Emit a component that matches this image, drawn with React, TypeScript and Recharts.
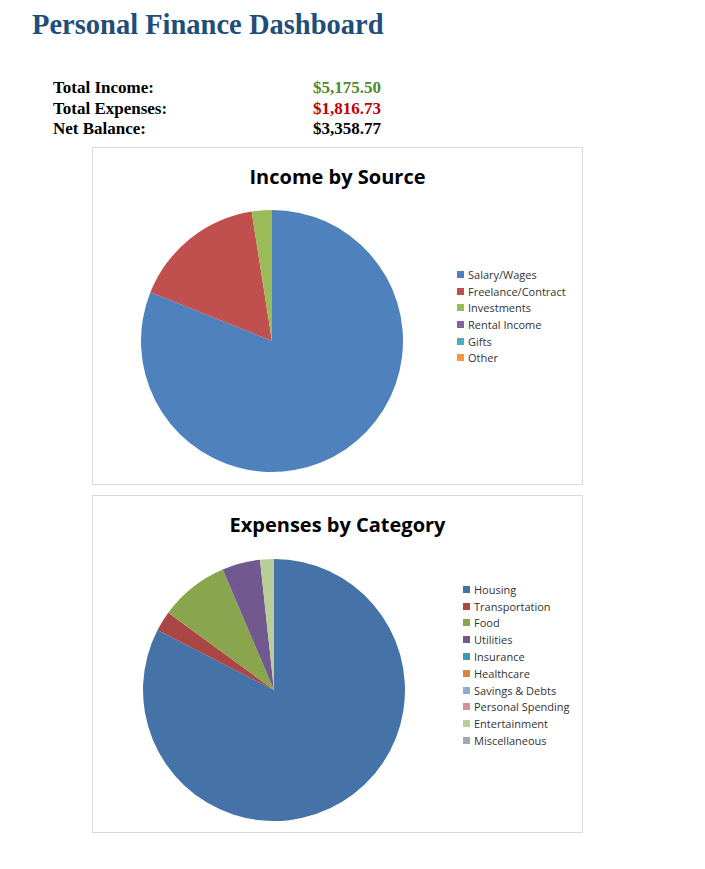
import React from 'react';
import { PieChart, Pie, Cell, Legend } from 'recharts';

const incomeSources = ['Salary/Wages', 'Freelance/Contract', 'Investments', 'Rental Income', 'Gifts', 'Other'];
const incomeValues = [4195.0, 852.0, 128.5, 0, 0, 0];
const incomeColors = ['#4F81BD', '#C0504D', '#9BBB59', '#8064A2', '#4BACC6', '#F79646'];

const expenseCategories = [
  'Housing', 'Transportation', 'Food', 'Utilities', 'Insurance',
  'Healthcare', 'Savings & Debts', 'Personal Spending', 'Entertainment', 'Miscellaneous',
];
const expenseValues = [1500.0, 45.0, 155.48, 85.25, 0, 0, 0, 0, 31.0, 0];
const expenseColors = [
  '#4572A7', '#AA4643', '#89A54E', '#71588F', '#4198AF',
  '#DB843D', '#93A9CF', '#D19392', '#B9CD96', '#A2A9B3',
];

const totalLabels = ['Total Income:', 'Total Expenses:', 'Net Balance:'];
const totalValues = ['$5,175.50', '$1,816.73', '$3,358.77'];
const totalColors = ['#4E8A2E', '#C00000', '#000000'];

const chartFont = '"Open Sans", "Noto Sans", sans-serif';
const serif = '"Liberation Serif", "DejaVu Serif", serif';

const incomeData = incomeSources.map((name, i) => ({ name, value: incomeValues[i] }));
const expenseData = expenseCategories.map((name, i) => ({ name, value: expenseValues[i] }));

// legend list like excel's: small square + grey text, kept in data order
function SquareLegend({ payload, names, rowHeight }) {
  const items = [...(payload || [])].sort((a, b) => names.indexOf(a.value) - names.indexOf(b.value));
  return (
    <ul style={{ listStyle: 'none', margin: 0, padding: 0 }}>
      {items.map((entry) => (
        <li
          key={entry.value}
          style={{ height: rowHeight, display: 'flex', alignItems: 'center', fontSize: 11, color: '#333', fontFamily: chartFont }}
        >
          <span style={{ width: 7, height: 7, background: entry.color, marginRight: 4, display: 'inline-block' }} />
          <span>{entry.value}</span>
        </li>
      ))}
    </ul>
  );
}

function ChartBox({ top, title, data, names, colors, cx, cy, legendLeft, legendTop, rowHeight }) {
  return (
    <div
      style={{
        position: 'absolute', left: 92, top, width: 491, height: 338,
        border: '1px solid #d9d9d9', boxSizing: 'border-box', background: '#fff',
      }}
    >
      <div
        style={{
          position: 'absolute', left: 0, right: 0, top: 15, textAlign: 'center',
          fontFamily: chartFont, fontWeight: 700, fontSize: 20, color: '#000',
        }}
      >
        {title}
      </div>
      <PieChart width={489} height={336} margin={{ top: 0, right: 0, bottom: 0, left: 0 }}>
        <Pie
          data={data}
          dataKey="value"
          nameKey="name"
          cx={cx}
          cy={cy}
          outerRadius={131}
          startAngle={90}
          endAngle={-270}
          stroke="none"
          isAnimationActive={false}
        >
          {data.map((d, i) => (
            <Cell key={d.name} fill={colors[i]} />
          ))}
        </Pie>
        <Legend
          layout="vertical"
          wrapperStyle={{ left: legendLeft, top: legendTop, width: 140 }}
          content={(props) => <SquareLegend payload={props.payload} names={names} rowHeight={rowHeight} />}
        />
      </PieChart>
    </div>
  );
}

export default function App() {
  return (
    <div style={{ position: 'relative', width: 705, height: 869, margin: -8, background: '#fff' }}>
      <div
        style={{
          position: 'absolute', left: 32, top: 9, fontFamily: serif, fontWeight: 700,
          fontSize: 28.5, color: '#1F4E79', whiteSpace: 'nowrap',
        }}
      >
        Personal Finance Dashboard
      </div>

      {totalLabels.map((label, i) => (
        <div
          key={label}
          style={{
            position: 'absolute', left: 53, top: 78 + i * 20.5, width: 328,
            display: 'flex', justifyContent: 'space-between',
            fontFamily: serif, fontWeight: 700, fontSize: 17, lineHeight: '20px',
          }}
        >
          <span style={{ color: '#000' }}>{label}</span>
          <span style={{ color: totalColors[i] }}>{totalValues[i]}</span>
        </div>
      ))}

      <ChartBox
        top={147}
        title="Income by Source"
        data={incomeData}
        names={incomeSources}
        colors={incomeColors}
        cx={179}
        cy={193}
        legendLeft={364}
        legendTop={118}
        rowHeight={16.7}
      />
      <ChartBox
        top={495}
        title="Expenses by Category"
        data={expenseData}
        names={expenseCategories}
        colors={expenseColors}
        cx={181}
        cy={194}
        legendLeft={370}
        legendTop={85}
        rowHeight={16.8}
      />
    </div>
  );
}
